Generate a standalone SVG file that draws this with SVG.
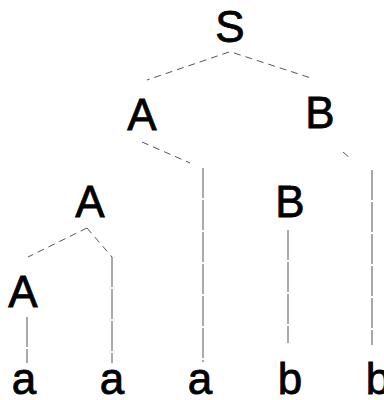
<svg xmlns="http://www.w3.org/2000/svg" width="384" height="400" viewBox="0 0 384 400">
<style>
text{font-family:"Liberation Sans",Arial,sans-serif;font-size:44px;fill:#000;stroke:#000;stroke-width:0.8;text-anchor:middle}
.d{stroke:#555;stroke-width:1;fill:none;stroke-dasharray:7 5}
.v{stroke:#555;stroke-width:1;fill:none;stroke-dasharray:30 2}
</style>
<rect width="384" height="400" fill="#fff"/>
<g id="connectors">
<path class="d" d="M229 52 L147 80"/>
<path class="d" d="M234 53 L311 78"/>
<path class="d" d="M142 142 L190 163"/>
<path class="v" d="M203 168 L203 362"/>
<path class="d" d="M343 152 L350 158"/>
<path class="v" d="M372 170 L372 345"/>
<path class="d" d="M87 228 L28 257"/>
<path class="d" d="M87 228 L112 257"/>
<path class="v" d="M112 257 L112 363"/>
<path class="v" d="M288 230 L288 343"/>
<path class="v" d="M27 317 L27 363"/>
</g>
<g id="S"><text x="230" y="42">S</text></g>
<g id="A1"><text x="142" y="130">A</text></g>
<g id="B1"><text x="320" y="128">B</text></g>
<g id="A2"><text x="90" y="217">A</text></g>
<g id="B2"><text x="290" y="217">B</text></g>
<g id="A3"><text x="23" y="307">A</text></g>
<g id="a1"><text x="24" y="394">a</text></g>
<g id="a2"><text x="112" y="394">a</text></g>
<g id="a3"><text x="200" y="394">a</text></g>
<g id="b1"><text x="290" y="394">b</text></g>
<g id="b2"><text x="378" y="394">b</text></g>
</svg>
